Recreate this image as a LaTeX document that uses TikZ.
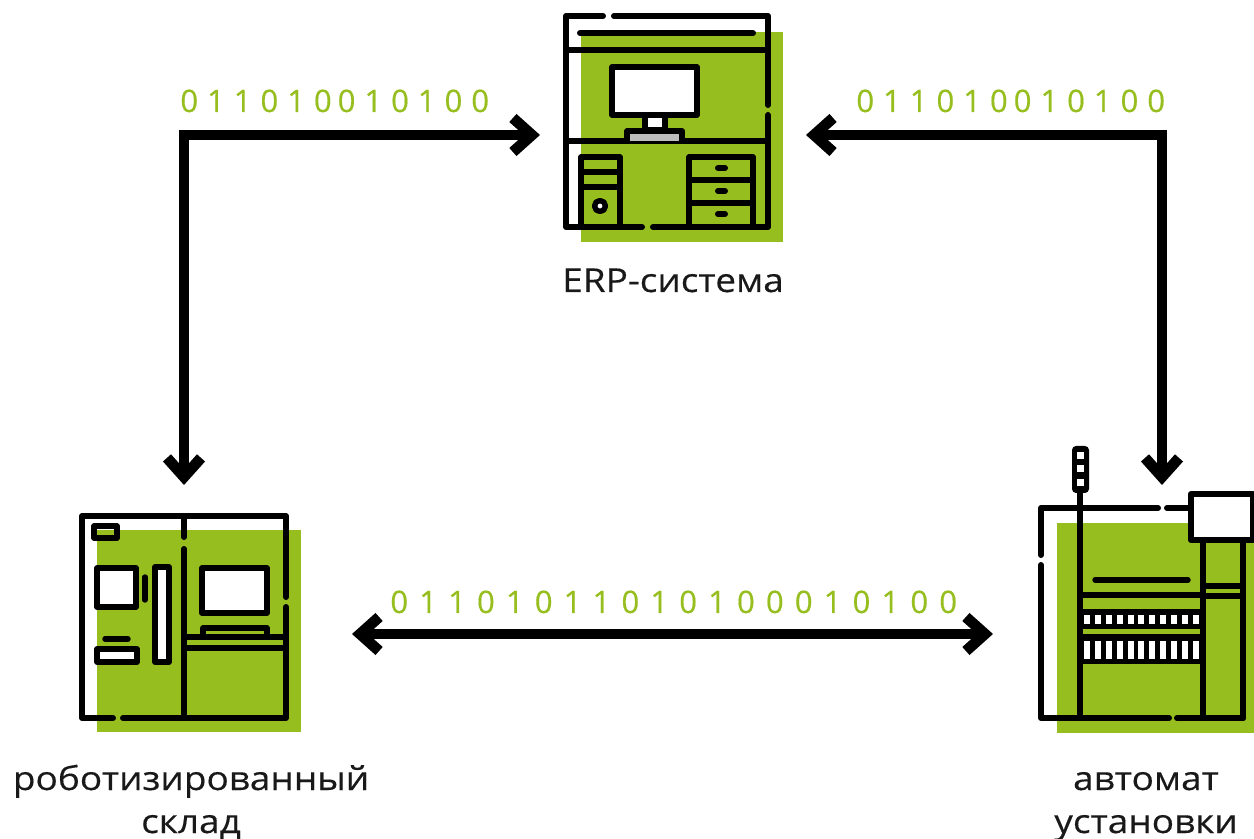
\documentclass[tikz,border=0pt]{standalone}
\usepackage{fontspec}
\setmainfont[FakeStretch=1.12,FakeBold=0.35]{Open Sans}
\newfontfamily\digitfont[LetterSpace=29,FakeBold=0.5]{Open Sans}
\newfontfamily\digitwidefont[LetterSpace=36,FakeBold=0.5]{Open Sans}
\usetikzlibrary{arrows.meta}
\definecolor{leaf}{HTML}{96BE1E}
\definecolor{keygrey}{HTML}{BDBDBD}
\begin{document}
\begin{tikzpicture}[x=0.5pt, y=-0.5pt,
                >={Straight Barb[length=9.5pt,width=17pt,line width=5.4pt]},
                flow/.style={<->, line width=5pt},
                bits/.style={text=leaf, font=\digitfont\fontsize{15.5}{18}\selectfont, anchor=base west, inner sep=0pt},
                caption/.style={text=black!90, font=\fontsize{16.5}{20}\selectfont, anchor=base, inner sep=0pt},
                greenbox/.style={fill=leaf},
                part/.style={draw=black, line width=3pt, line cap=round, line join=round},
                thinpart/.style={part, line width=2.7pt},
                hole/.style={thinpart, fill=white}
                ]
                \useasboundingbox (0,0) rectangle (1254,839);
                \clip (0,0) rectangle (1254,839);

                % ERP icon
                \fill[greenbox] (581,32) rectangle (783,242);
                \draw[part] (603,16) -- (566,16) -- (566,227) -- (642,227);
                \draw[part] (614,16) -- (768,16) -- (768,105);
                \draw[part] (768,115) -- (768,227) -- (653,227);
                \draw[part] (580,33) -- (753,33);
                \draw[thinpart] (566,50) -- (768,50);
                \draw[thinpart] (566,141) -- (768,141);
                \draw[hole] (612,67) rectangle (697,115);
                \draw[hole] (645,115) rectangle (665,130);
                \draw[thinpart, fill=keygrey] (627,141) -- (627,131) -- (682,131) -- (682,141);
                \draw[thinpart] (581,227) -- (581,157) -- (620,157) -- (620,227);
                \draw[thinpart] (581,172) -- (620,172);
                \draw[thinpart] (581,187) -- (620,187);
                \draw[hole] (600,206) circle (5.5);
                \draw[thinpart] (689,227) -- (689,157) -- (753,157) -- (753,227);
                \draw[thinpart] (689,180) -- (753,180);
                \draw[thinpart] (689,203) -- (753,203);
                \foreach \handle in {168,191,214}
                    \draw[part] (718,\handle) -- (725,\handle);

                % Warehouse icon
                \fill[greenbox] (97,530) rectangle (301,732);
                \draw[part] (113,718) -- (82,718) -- (82,516) -- (286,516) -- (286,597);
                \draw[part] (286,607) -- (286,718) -- (123,718);
                \draw[part] (184,516) -- (184,537);
                \draw[part] (184,549) -- (184,718);
                \draw[thinpart] (94,526) rectangle (117,538);
                \draw[hole] (97,568) rectangle (136,607);
                \draw[thinpart] (145,577) -- (145,600);
                \draw[hole] (155,567) rectangle (169,662);
                \draw[thinpart] (105,639) -- (128,639);
                \draw[hole] (97,649) rectangle (137,662);
                \draw[hole] (202,568) rectangle (267,613);
                \draw[thinpart] (203,637) -- (203,628) -- (267,628) -- (267,637);
                \draw[thinpart] (184,637) -- (286,637);
                \draw[thinpart] (184,648) -- (286,648);

                % Machine icon
                \fill[greenbox] (1057,523) rectangle (1254,733);
                \draw[part] (1041,555) -- (1041,508) -- (1158,508);
                \draw[part] (1167,508) -- (1190,508);
                \draw[part] (1041,565) -- (1041,718) -- (1169,718);
                \draw[part] (1177,718) -- (1243,718);
                \draw[part] (1080,492) -- (1080,718);
                \draw[part] (1203,540) -- (1203,718);
                \draw[part] (1243,540) -- (1243,718);
                \draw[part, fill=white] (1191,494) rectangle (1253,540);
                \draw[thinpart] (1095,580) -- (1188,580);
                \draw[thinpart] (1080,595) -- (1203,595);
                \draw[thinpart] (1203,586) -- (1243,586);
                \draw[thinpart] (1203,596) -- (1243,596);
                \fill[black] (1080,609) rectangle (1203,664);
                \fill[leaf] (1083,629) rectangle (1200,634);
                \foreach \cell in {0,...,10} {
                    \fill[white] (1086.7+\cell*10.95-3,615) rectangle (1086.7+\cell*10.95+3,624);
                    \fill[white] (1086.7+\cell*10.95-3,641) rectangle (1086.7+\cell*10.95+3,659);
                }
                \fill[black, rounded corners=2pt] (1072,446) rectangle (1089,493);
                \foreach \lamp in {456,469,483}
                    \fill[white] (1077,\lamp-3.5) rectangle (1084,\lamp+3.5);

                % Arrow ends
                \coordinate (erp_west) at (540,135);
                \coordinate (erp_east) at (806,135);
                \coordinate (store_north) at (184,485);
                \coordinate (store_east) at (352,634);
                \coordinate (machine_north) at (1162,485);
                \coordinate (machine_west) at (993,634);

                % Paths
                \draw[flow] (store_north) |- (erp_west);
                \draw[flow] (erp_east) -| (machine_north);
                \draw[flow] (store_east) -- (machine_west);

                % Labels
                \node[bits] (bits_left) at (180,112) {011010\kern3pt 010100};
                \node[bits] (bits_right) at (856,112) {011010\kern3pt 010100};
                \node[bits, font=\digitwidefont\fontsize{15.5}{18}\selectfont] (bits_bottom) at (390,613) {01101011010100010100};
                \node[caption] (erp_label) at (673,292) {ERP-система};
                \node[caption] (store_label) at (191,790) {роботизированный};
                \node[caption] (store_label2) at (191,833) {склад};
                \node[caption] (machine_label) at (1146,790) {автомат};
                \node[caption] (machine_label2) at (1146,833) {установки};
\end{tikzpicture}
\end{document}
